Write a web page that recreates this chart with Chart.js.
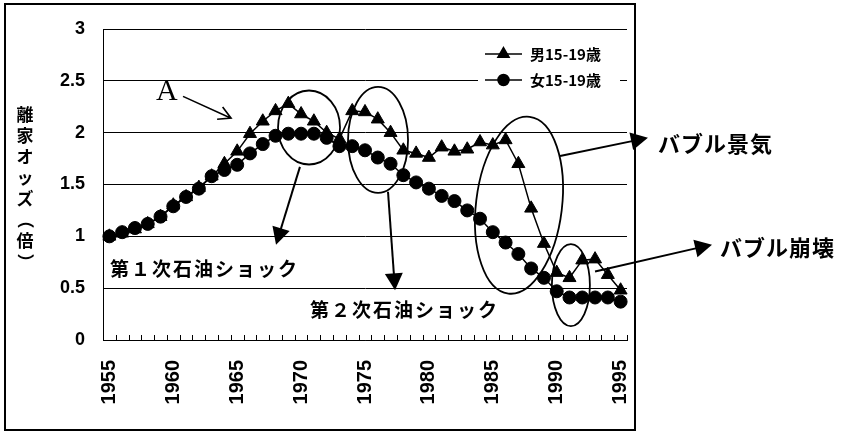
<!DOCTYPE html>
<html>
<head>
<meta charset="utf-8">
<script src="https://cdn.jsdelivr.net/npm/chart.js@4"></script>
<style>
  body { margin: 0; background: #fff; }
  canvas { display: block; }
</style>
</head>
<body>
<canvas id="graph" width="848" height="437"></canvas>
<script>
const years = [
    1955, 1956, 1957, 1958, 1959, 1960, 1961, 1962, 1963, 1964,
    1965, 1966, 1967, 1968, 1969, 1970, 1971, 1972, 1973, 1974,
    1975, 1976, 1977, 1978, 1979, 1980, 1981, 1982, 1983, 1984,
    1985, 1986, 1987, 1988, 1989, 1990, 1991, 1992, 1993, 1994,
    1995
];
const maleOdds = [
    1.00, 1.03, 1.07, 1.12, 1.19, 1.30, 1.38, 1.47, 1.58, 1.70,
    1.82, 1.99, 2.11, 2.21, 2.28, 2.18, 2.11, 2.00, 1.94, 2.21,
    2.20, 2.13, 2.00, 1.83, 1.80, 1.76, 1.86, 1.82, 1.84, 1.91,
    1.88, 1.93, 1.70, 1.27, 0.93, 0.65, 0.60, 0.77, 0.78, 0.63,
    0.48
];
const femaleOdds = [
    1.00, 1.04, 1.08, 1.12, 1.19, 1.29, 1.38, 1.46, 1.58, 1.64,
    1.69, 1.80, 1.89, 1.97, 1.99, 1.99, 1.99, 1.95, 1.87, 1.87,
    1.83, 1.76, 1.70, 1.59, 1.52, 1.46, 1.39, 1.34, 1.25, 1.17,
    1.04, 0.94, 0.83, 0.69, 0.60, 0.47, 0.41, 0.41, 0.41, 0.41,
    0.37
];
const seriesLabels = ['男15-19歳', '女15-19歳'];
const labelYears = [1955, 1960, 1965, 1970, 1975, 1980, 1985, 1990, 1995];
const yTicks = [0, 0.5, 1, 1.5, 2, 2.5, 3];
const axisTitle = ['離', '家', 'オ', 'ッ', 'ズ', '（', '倍', '）'];

// callouts, placed in (year, value) units
const rings = [
    { at: [1970.62, 2.05], rx: 31, ry: 37, tilt: 0 },
    { at: [1976.02, 1.93], rx: 30, ry: 53, tilt: 0 },
    { at: [1987.05, 1.30], rx: 43, ry: 89, tilt: 0.12 },
    { at: [1991.11, 0.53], rx: 19, ry: 41, tilt: 0 }
];
const arrows = [
    { from: [1969.91, 1.67], to: [1968.04, 0.92] },
    { from: [1976.80, 1.43], to: [1977.35, 0.48] },
    { from: [1990.26, 1.775], to: [1997.14, 1.95] },
    { from: [1993.00, 0.66], to: [2002.15, 0.92] }
];
const notes = [
    { text: '第１次石油ショック', at: [1955.05, 0.69], size: 19 },
    { text: '第２次石油ショック', at: [1970.70, 0.29], size: 19 },
    { text: 'バブル景気', at: [1997.92, 1.89], size: 22 },
    { text: 'バブル崩壊', at: [2002.78, 0.89], size: 22 }
];
const markA = { text: 'A', at: [1959.5, 2.39], from: [1960.76, 2.35], to: [1964.52, 2.14] };

const JP = "'Noto Sans CJK JP', sans-serif";
Chart.defaults.font.family = "'Liberation Sans', Arial, sans-serif";
Chart.defaults.color = '#000';

const solidHead = (ctx, x0, y0, x1, y1, len, half) => {
    const a = Math.atan2(y1 - y0, x1 - x0);
    ctx.beginPath();
    ctx.moveTo(x1, y1);
    ctx.lineTo(x1 - len * Math.cos(a) + half * Math.sin(a), y1 - len * Math.sin(a) - half * Math.cos(a));
    ctx.lineTo(x1 - len * Math.cos(a) - half * Math.sin(a), y1 - len * Math.sin(a) + half * Math.cos(a));
    ctx.closePath();
    ctx.fill();
};

const decorations = {
    id: 'decorations',
    beforeDraw(chart) {
        const ctx = chart.ctx;
        ctx.save();
        ctx.fillStyle = '#fff';
        ctx.fillRect(0, 0, chart.width, chart.height);
        ctx.restore();
    },
    afterDraw(chart) {
        const { ctx, chartArea: area, scales: { x, y } } = chart;
        const px = yr => x.getPixelForValue(yr - years[0]);
        const py = v => y.getPixelForValue(v);
        ctx.save();
        ctx.strokeStyle = '#000';
        ctx.fillStyle = '#000';

        // small ticks between years, inside the plot
        ctx.lineWidth = 1;
        ctx.beginPath();
        for (let i = 0; i <= years.length; i++) {
            const xb = Math.round(x.getPixelForValue(i - 0.5)) + 0.5;
            ctx.moveTo(xb, area.bottom);
            ctx.lineTo(xb, area.bottom - 5);
        }
        ctx.stroke();

        // vertical axis title, brackets turned for vertical writing
        ctx.font = 'bold 17px ' + JP;
        ctx.textAlign = 'center';
        ctx.textBaseline = 'middle';
        const mid = (area.top + area.bottom) / 2 + 4;
        axisTitle.forEach((ch, i) => {
            const cy = mid + (i - (axisTitle.length - 1) / 2) * 21;
            if (ch === '（' || ch === '）') {
                ctx.save();
                ctx.translate(25, cy);
                ctx.rotate(Math.PI / 2);
                ctx.fillText(ch, 0, 0);
                ctx.restore();
            } else {
                ctx.fillText(ch, 25, cy);
            }
        });

        // legend
        ctx.fillStyle = '#fff';
        ctx.fillRect(478, 40, 142, 55);
        ctx.fillStyle = '#000';
        ctx.font = 'bold 15px ' + JP;
        ctx.textAlign = 'left';
        chart.data.datasets.forEach((ds, i) => {
            const ly = 54 + i * 26;
            ctx.lineWidth = 1.5;
            ctx.beginPath();
            ctx.moveTo(485, ly);
            ctx.lineTo(522, ly);
            ctx.stroke();
            Chart.helpers.drawPoint(ctx, { pointStyle: ds.pointStyle, radius: ds.pointRadius - 1, borderWidth: 1 }, 503.5, ly);
            ctx.fillText(ds.label, 530, ly);
        });

        // rings
        ctx.lineWidth = 1.8;
        rings.forEach(r => {
            ctx.beginPath();
            ctx.ellipse(px(r.at[0]), py(r.at[1]), r.rx, r.ry, r.tilt, 0, Math.PI * 2);
            ctx.stroke();
        });

        // arrows
        arrows.forEach(a => {
            const x0 = px(a.from[0]), y0 = py(a.from[1]);
            const x1 = px(a.to[0]), y1 = py(a.to[1]);
            const ang = Math.atan2(y1 - y0, x1 - x0);
            ctx.lineWidth = 2;
            ctx.beginPath();
            ctx.moveTo(x0, y0);
            ctx.lineTo(x1 - 10 * Math.cos(ang), y1 - 10 * Math.sin(ang));
            ctx.stroke();
            solidHead(ctx, x0, y0, x1, y1, 17, 9);
        });

        // notes
        ctx.textBaseline = 'middle';
        ctx.textAlign = 'left';
        notes.forEach(n => {
            ctx.font = 'bold ' + n.size + 'px ' + JP;
            ctx.letterSpacing = n.size < 20 ? '2px' : '1px';
            ctx.fillText(n.text, px(n.at[0]), py(n.at[1]));
        });
        ctx.letterSpacing = '0px';

        // the "A" mark and its open arrow
        ctx.font = "30px 'Liberation Serif', serif";
        ctx.textAlign = 'center';
        ctx.fillText(markA.text, px(markA.at[0]), py(markA.at[1]));
        {
            const x0 = px(markA.from[0]), y0 = py(markA.from[1]);
            const x1 = px(markA.to[0]), y1 = py(markA.to[1]);
            const ang = Math.atan2(y1 - y0, x1 - x0);
            ctx.lineWidth = 1.6;
            ctx.beginPath();
            ctx.moveTo(x0, y0);
            ctx.lineTo(x1, y1);
            ctx.moveTo(x1 - 14 * Math.cos(ang - 0.5), y1 - 14 * Math.sin(ang - 0.5));
            ctx.lineTo(x1, y1);
            ctx.lineTo(x1 - 14 * Math.cos(ang + 0.5), y1 - 14 * Math.sin(ang + 0.5));
            ctx.stroke();
        }

        // frame round the chart
        ctx.lineWidth = 2;
        ctx.strokeRect(5, 4, 630, 426);
        ctx.restore();
    }
};

const data = {
    labels: years,
    datasets: [{
        label: seriesLabels[0],
        data: maleOdds,
        borderColor: '#000',
        backgroundColor: '#000',
        borderWidth: 1.5,
        pointStyle: 'triangle',
        pointRadius: 7.5,
        pointBorderWidth: 1,
        tension: 0
    }, {
        label: seriesLabels[1],
        data: femaleOdds,
        borderColor: '#000',
        backgroundColor: '#000',
        borderWidth: 1.5,
        pointStyle: 'circle',
        pointRadius: 6.5,
        pointBorderWidth: 1,
        tension: 0
    }]
};

const config = {
    type: 'line',
    data: data,
    plugins: [decorations],
    options: {
        responsive: false,
        animation: false,
        devicePixelRatio: 1,
        layout: {
            padding: { left: 0, top: 29, right: 221, bottom: 0 }
        },
        plugins: {
            legend: { display: false },
            tooltip: { enabled: false }
        },
        scales: {
            x: {
                type: 'category',
                offset: true,
                grid: { display: false, drawTicks: false },
                border: { display: true, color: '#000', width: 1 },
                afterFit: s => { s.height = 97; },
                ticks: {
                    autoSkip: false,
                    minRotation: 90,
                    maxRotation: 90,
                    padding: 20,
                    font: { size: 20, weight: 'bold' },
                    callback: (val, i) => labelYears.includes(years[i]) ? String(years[i]) : null
                }
            },
            y: {
                min: 0,
                max: 3,
                afterBuildTicks: s => { s.ticks = yTicks.map(v => ({ value: v })); },
                afterFit: s => { s.width = 103; },
                grid: { color: '#000', lineWidth: 1, drawTicks: false },
                border: { display: true, color: '#000', width: 1 },
                ticks: {
                    padding: 18,
                    font: { size: 18, weight: 'bold' },
                    callback: v => String(v)
                }
            }
        }
    }
};

const graph = new Chart(document.getElementById('graph'), config);
</script>
</body>
</html>
